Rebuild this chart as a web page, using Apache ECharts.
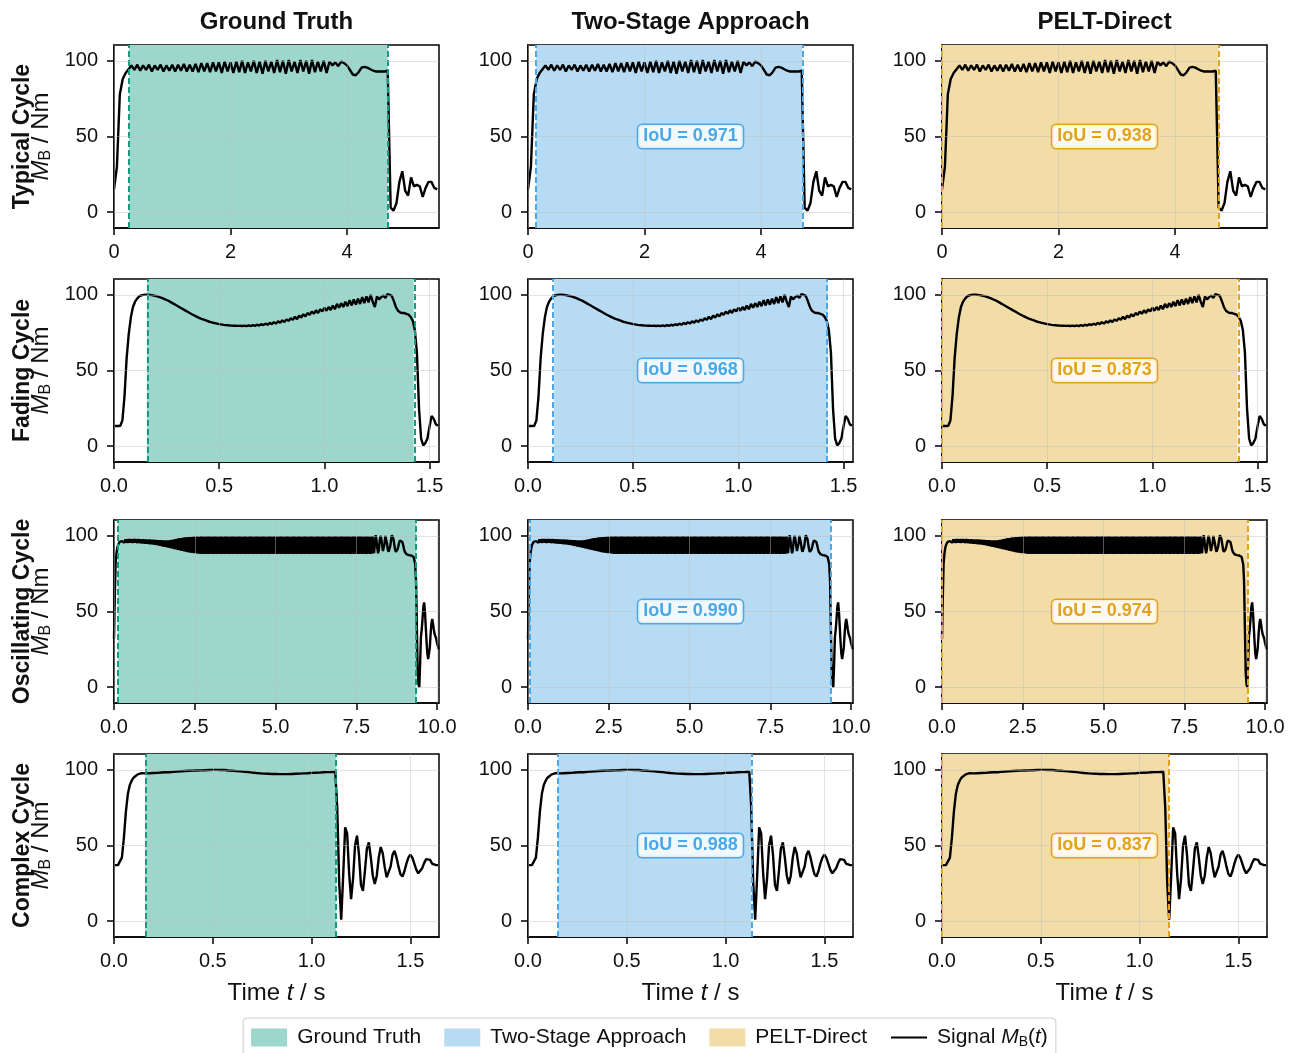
<!DOCTYPE html>
<html>
<head>
<meta charset="utf-8">
<script src="https://cdn.jsdelivr.net/npm/echarts@6/dist/echarts.min.js"></script>
<style>
  html, body { margin: 0; padding: 0; background: #fff; }
  #chart { width: 1299px; height: 1053px; }
</style>
</head>
<body>
<div id="chart"></div>
<script>
// ---- data ----
var rowNames = ['Typical Cycle', 'Fading Cycle', 'Oscillating Cycle', 'Complex Cycle'];
var methodNames = ['Ground Truth', 'Two-Stage Approach', 'PELT-Direct'];

// sample step of each signal (s), signals start at t = 0
var sampleStep = [0.05, 0.01, 0.025, 0.01];

var typicalSignal = [15, 30, 78, 88, 92, 94.5,
  97, 94, 97.5, 93.5, 97, 94, 97.5, 93, 97, 94,
  97.5, 93, 97, 93.5, 97.5, 93, 97.5, 93.5, 98, 93,
  97.5, 93, 98, 92.5, 98.5, 93, 98.5, 92.5, 99, 93,
  99, 92, 99.5, 93, 99, 92, 99.5, 92.5, 100, 92,
  99, 93, 100, 92, 99.5, 91.5, 100, 93, 99.5, 92,
  100.5, 92.5, 100, 91.5, 100.5, 93, 99.5, 92, 100.5, 93,
  100, 91.5, 100.5, 92.5, 99.5, 93, 100, 92, 99.5, 97,
  99, 96.5, 99.5, 98.5,
  97, 94, 91, 90.5, 92.5, 95.5, 96, 95.5, 94.5, 93.5, 93, 93, 93, 93, 93.5,
  3, 1, 6, 20, 27, 14, 11, 23, 17, 18, 17, 10, 16, 20, 20, 16, 15];

var fadingSignal = [13.3, 13.3, 13.3, 13.5,
  17, 33, 58, 74, 85, 92, 95.5, 97.5, 99, 99.7, 100,
  100.2, 100.2, 100, 99.8, 99.5, 99.2, 98.8, 98.3, 97.8, 97.2,
  96.6, 96, 95.2, 94.4, 93.6, 92.8, 92, 91.2, 90.4, 89.6,
  88.8, 88, 87.2, 86.5, 85.8, 85.1, 84.5, 83.9, 83.4, 82.9,
  82.4, 82, 81.6, 81.3, 81, 80.7, 80.5, 80.2, 80, 79.9,
  79.8, 79.7, 79.6, 79.6, 79.5,
  79.6, 79.4, 79.7, 79.3, 79.8, 79.4, 80, 79.5, 80.3, 79.7,
  80.6, 80, 81, 80.2, 81.5, 80.6, 82, 81, 82.6, 81.5,
  83.2, 82, 83.8, 82.8, 84.5, 83.5, 85.5, 84, 86.3, 85,
  87.2, 85.8, 88, 86.8, 89, 87.5, 89.8, 88, 90.5, 89,
  91.5, 89.5, 92, 90, 93, 90.5, 94, 91.5, 94.5, 92,
  95.5, 92.5, 96.5, 93, 97, 93.5, 97.5, 94, 98.5, 94.5,
  99, 95, 100, 95.5, 92, 99, 97, 98.5, 99.5, 98,
  100.5,
  100, 99.5, 96, 92, 89.5, 88.5, 88, 88, 87.5, 87, 85.5, 83,
  77, 62, 25, 5, 0.5, 2, 5, 13, 20, 18, 14.5, 13.5];

var oscillatingSignal = [32, 60, 82, 88, 92, 94, 95, 96, 96.5, 96.5, 96.5, 96.8,
  97.6, 95.4, 97.8, 95.5, 97.7, 95.3, 97.9, 95.5, 98, 95.4,
  97.8, 95.3, 98, 95.5, 97.9, 95.4, 97.8, 95.2, 97.9, 95.3,
  97.8, 95.1, 97.7, 95, 97.8, 94.9, 97.6, 94.8, 97.7, 94.7,
  97.5, 94.6, 97.6, 94.5, 97.4, 94.4, 97.5, 94.2, 97.3, 94.1,
  97.3, 94, 97.2, 93.8, 97.2, 93.5, 97.1, 93.3, 97, 93,
  97, 92.8, 97, 92.5, 97.1, 92.3, 97, 92, 97.2, 91.8,
  97.4, 91.5, 97.6, 91.2, 97.9, 91, 98.1, 90.7, 98.4, 90.5,
  98.5, 90.2, 98.6, 90, 98.8, 89.8, 99, 89.5, 99.1, 89.3,
  99.2, 89, 99.3, 88.9, 99.4, 88.8, 99.5, 88.6, 99.6, 88.5,
  99.7, 88.4,
  99.8, 88.2, 99.6, 88, 99.9, 88.3, 99.7, 88.1, 99.8, 88,
  99.6, 88.2, 99.9, 88, 99.7, 88.3, 99.8, 88.1, 99.6, 88,
  99.9, 88.2, 99.7, 88, 99.8, 88.3, 99.6, 88.1, 99.9, 88,
  99.8, 88.2, 99.6, 88, 99.9, 88.3, 99.7, 88.1, 99.8, 88,
  99.6, 88.2, 99.9, 88, 99.7, 88.3, 99.8, 88.1, 99.6, 88,
  99.9, 88.2, 99.7, 88, 99.8, 88.3, 99.6, 88.1, 99.9, 88,
  99.8, 88.2, 99.6, 88, 99.9, 88.3, 99.7, 88.1, 99.8, 88,
  99.6, 88.2, 99.9, 88, 99.7, 88.3, 99.8, 88.1, 99.6, 88,
  99.9, 88.2, 99.7, 88, 99.8, 88.3, 99.6, 88.1, 99.9, 88,
  99.8, 88.2, 99.6, 88, 99.9, 88.3, 99.7, 88.1, 99.8, 88,
  99.6, 88.2, 99.9, 88, 99.7, 88.3, 99.8, 88.1, 99.6, 88,
  99.9, 88.2, 99.7, 88, 99.8, 88.3, 99.6, 88.1, 99.9, 88,
  99.8, 88.2, 99.6, 88, 99.9, 88.3, 99.7, 88.1, 99.8, 88,
  99.6, 88.2, 99.9, 88, 99.7, 88.3, 99.8, 88.1, 99.6, 88,
  99.9, 88.2, 99.7, 88, 99.8, 88.3, 99.6, 88.1, 99.9, 88,
  99.8, 88.2, 99.6, 88, 99.9, 88.3, 99.7, 88.1, 99.8, 88,
  99.6, 88.2, 99.9, 88, 99.7, 88.3, 99.8, 88.1, 99.6, 88,
  99.9, 88.2, 99.7, 88, 99.8, 88.3, 99.6, 88.1, 99.9, 88,
  99.8, 88.2, 99.6, 88, 99.9, 88.3, 99.7, 88.1, 99.8, 88,
  99.6, 88.2, 99.9, 88, 99.7, 88.3, 99.8, 88.1, 99.6, 88,
  99.9, 88.2, 99.7, 88, 99.8, 88.3, 99.6, 88.1, 99.9, 88,
  99.7, 88.2, 99.8, 88, 99.6, 88.3,
  99.8, 94, 88.5, 95, 100.5, 97, 92, 88.5, 91, 97,
  100, 98, 94, 90, 89.5, 95, 100, 99, 95, 91,
  89.5, 90.5, 93, 97, 100.5, 100, 98, 94.5, 91, 89.5,
  89.5, 91, 93, 95.5, 97, 97.8, 97.5, 96, 94, 91.5,
  89.5, 88.5, 88, 87.8, 87.5, 87.3, 87.2, 87.1, 87, 86.8,
  86.5, 86, 85, 81, 70, 40, 10, 2, 0, 15,
  33, 38, 45, 53, 56, 50, 40, 30, 22, 18.5,
  19, 26, 35, 42, 45, 42, 38, 35, 34, 32,
  29, 27, 25];

var complexSignal = [37, 37, 37, 37, 42, 55, 72, 84, 90, 93, 95, 96.2, 97, 97.5, 97.8,
  97.8, 97.7, 97.9, 97.8, 98, 97.9, 98.1, 98, 98.2, 98.3,
  98.2, 98.4, 98.5, 98.4, 98.6, 98.7, 98.8, 98.9, 99, 99.1,
  99.2, 99.3, 99.3, 99.4, 99.5, 99.5, 99.6, 99.6, 99.7, 99.7,
  99.8, 99.8, 99.8, 99.9, 99.9, 100, 99.9, 100, 99.9, 99.9,
  99.8, 99.9, 99.7, 99.6, 99.6, 99.4, 99.4, 99.2, 99.1, 99,
  98.9, 98.8, 98.6, 98.5, 98.3, 98.2, 98.1, 97.9, 97.8, 97.7,
  97.6, 97.5, 97.4, 97.4, 97.3, 97.3, 97.2, 97.3, 97.2, 97.2,
  97.1, 97.2, 97.1, 97.2, 97.2, 97.3, 97.3, 97.4, 97.5, 97.5,
  97.6, 97.7, 97.8, 97.8, 97.9, 98, 98, 98.1, 98.2, 98.2,
  98.3, 98.4, 98.4, 98.5, 98.6, 98.6, 98.7, 98.8,
  75, 25, 1, 30, 62, 58, 32, 14.5, 28, 50,
  56.5, 44, 24, 20, 33, 48, 52, 42, 30, 24.5,
  30, 42, 49, 45, 36, 29, 28, 36, 44, 46.5,
  42, 36, 31, 29.5, 33, 38, 42, 44, 42, 38,
  34, 31.6, 32, 35, 38.5, 41, 42, 40.5, 38, 37,
  37, 37];

var signals = [typicalSignal, fadingSignal, oscillatingSignal, complexSignal];

// detected segment [start, end] per row
var gtStart = [0.26, 0.156, 0.12, 0.158];
var gtEnd = [4.70, 1.425, 9.35, 1.123];
var twoStageStart = [0.14, 0.124, 0.06, 0.152];
var twoStageEnd = [4.71, 1.424, 9.37, 1.129];
var peltStart = [0, 0, 0, 0];
var peltEnd = [4.75, 1.405, 9.46, 1.149];

var twoStageIoU = ['0.971', '0.968', '0.990', '0.988'];
var peltIoU = ['0.938', '0.873', '0.974', '0.837'];

// tick labels
var xTicks = [[0, 2, 4], [0, 0.5, 1.0, 1.5], [0, 2.5, 5.0, 7.5, 10.0], [0, 0.5, 1.0, 1.5]];
var xDecimals = [0, 1, 1, 1];
var xMax = [5.58, 1.545, 10.06, 1.645];
var yTicks = [0, 50, 100];

// ---- look ----
var FONT = '"Liberation Sans", Arial, Helvetica, sans-serif';
var fillColors = ['#9dd6cb', '#b7dbf2', '#f2dca8'];
var edgeColors = ['#139c7f', '#4aa8e8', '#e3a21a'];
var gridLeft = [114, 528, 942];
var gridTop = [45, 279, 520, 754];
var gridW = 325, gridH = 183;

var starts = [gtStart, twoStageStart, peltStart];
var ends = [gtEnd, twoStageEnd, peltEnd];
var ious = [null, twoStageIoU, peltIoU];

var chart = echarts.init(document.getElementById('chart'));

var grids = [], xAxes = [], yAxes = [], series = [], graphics = [];

// rich styles: subscript is pushed down with top padding
function richFor(size) {
    var sub = Math.round(size * 0.68);
    return {
        n: { fontSize: size, fontFamily: FONT, color: '#111', lineHeight: size, verticalAlign: 'middle' },
        i: { fontSize: size, fontFamily: FONT, color: '#111', fontStyle: 'italic', lineHeight: size, verticalAlign: 'middle' },
        s: { fontSize: sub, fontFamily: FONT, color: '#111', lineHeight: sub, verticalAlign: 'middle',
             padding: [Math.round(size * 0.42), 0, 0, 0] }
    };
}

for (var r = 0; r < 4; r++) {
    var pts = signals[r].map(function(v, i) {
        return [+(i * sampleStep[r]).toFixed(3), v];
    });
    for (var c = 0; c < 3; c++) {
        var g = r * 3 + c;
        grids.push({
            left: gridLeft[c], top: gridTop[r], width: gridW, height: gridH,
            show: true, borderColor: '#000', borderWidth: 1.5,
            backgroundColor: 'transparent', containLabel: false, outerBoundsMode: 'none'
        });
        xAxes.push({
            gridIndex: g, type: 'value', min: 0, max: xMax[r],
            axisLine: { show: true, onZero: false, lineStyle: { color: '#000', width: 1.5 } },
            axisTick: { show: true, length: 7, lineStyle: { color: '#000', width: 1.5 }, customValues: xTicks[r] },
            axisLabel: {
                customValues: xTicks[r], fontSize: 20, fontFamily: FONT, color: '#111', margin: 14,
                formatter: (function(d) { return function(v) { return Number(v).toFixed(d); }; })(xDecimals[r])
            },
            splitLine: { show: false },
            name: r === 3 ? '{n|Time }{i|t}{n| / s}' : '',
            nameLocation: 'middle', nameGap: 44,
            nameTextStyle: { fontSize: 24, fontFamily: FONT, color: '#111', rich: richFor(24) }
        });
        yAxes.push({
            gridIndex: g, type: 'value', min: -10.5, max: 110.5,
            axisLine: { show: true, onZero: false, lineStyle: { color: '#000', width: 1.5 } },
            axisTick: { show: true, length: 7, lineStyle: { color: '#000', width: 1.5 }, customValues: yTicks },
            axisLabel: { customValues: yTicks, fontSize: 20, fontFamily: FONT, color: '#111', margin: 16 },
            splitLine: { show: false },
            name: c === 0 ? '{i|M}{s|B}{n| / Nm}' : '',
            nameLocation: 'middle', nameGap: 61, nameRotate: 90,
            nameTextStyle: { fontSize: 24, fontFamily: FONT, color: '#111', rich: richFor(24) }
        });

        // shaded segment with dashed boundaries
        series.push({
            type: 'line', name: methodNames[c], xAxisIndex: g, yAxisIndex: g,
            data: [], z: 1, silent: true, symbol: 'none',
            itemStyle: { color: fillColors[c] }, lineStyle: { width: 0 },
            markArea: {
                silent: true, itemStyle: { color: fillColors[c] },
                data: [[{ xAxis: starts[c][r] }, { xAxis: ends[c][r] }]]
            },
            markLine: {
                silent: true, symbol: 'none', label: { show: false },
                lineStyle: { color: edgeColors[c], type: [6, 3], width: 2 },
                data: [{ xAxis: starts[c][r] }, { xAxis: ends[c][r] }]
            }
        });
        // grid lines
        var gl = yTicks.map(function(v) { return { yAxis: v }; })
            .concat(xTicks[r].map(function(v) { return { xAxis: v }; }));
        series.push({
            type: 'line', xAxisIndex: g, yAxisIndex: g, data: [], z: 2, silent: true, symbol: 'none',
            markLine: {
                silent: true, symbol: 'none', label: { show: false },
                lineStyle: { color: 'rgba(190,190,190,0.45)', width: 1, type: 'solid' },
                data: gl
            }
        });
        // signal
        series.push({
            type: 'line', name: 'Signal', xAxisIndex: g, yAxisIndex: g, data: pts,
            z: 3, silent: true, symbol: 'none', showSymbol: false,
            lineStyle: { color: '#000', width: 2.4 }, itemStyle: { color: '#000' }
        });

        if (ious[c]) {
            graphics.push({
                type: 'text', z: 100,
                x: gridLeft[c] + gridW / 2, y: gridTop[r] + gridH / 2,
                style: {
                    text: 'IoU = ' + ious[c][r], fill: edgeColors[c],
                    font: 'bold 18px ' + FONT, align: 'center', verticalAlign: 'middle',
                    backgroundColor: 'rgba(255,255,255,0.82)', borderColor: edgeColors[c],
                    borderWidth: 1.5, borderRadius: 4, padding: [3, 5, 2, 5]
                }
            });
        }
    }
    graphics.push({
        type: 'text', z: 100, x: 23, y: gridTop[r] + gridH / 2, rotation: Math.PI / 2,
        style: { text: rowNames[r], fill: '#111', font: 'bold 23px ' + FONT, align: 'center', verticalAlign: 'middle' }
    });
}

for (var c = 0; c < 3; c++) {
    graphics.push({
        type: 'text', z: 100, x: gridLeft[c] + gridW / 2, y: 22,
        style: { text: methodNames[c], fill: '#111', font: 'bold 24px ' + FONT, align: 'center', verticalAlign: 'middle' }
    });
}

var option = {
    animation: false,
    backgroundColor: '#fff',
    grid: grids,
    xAxis: xAxes,
    yAxis: yAxes,
    series: series,
    graphic: graphics,
    legend: {
        top: 1018, left: 'center',
        data: [
            { name: 'Ground Truth', icon: 'rect' },
            { name: 'Two-Stage Approach', icon: 'rect' },
            { name: 'PELT-Direct', icon: 'rect' },
            { name: 'Signal', itemStyle: { color: 'rgba(0,0,0,0)', borderWidth: 0, opacity: 0 } }
        ],
        itemWidth: 36, itemHeight: 18, itemGap: 23, selectedMode: false,
        borderColor: '#ccc', borderWidth: 1, borderRadius: 4, padding: [8, 8, 8, 8],
        formatter: function(name) {
            return name === 'Signal' ? '{n|Signal }{i|M}{s|B}{n|(}{i|t}{n|)}' : name;
        },
        textStyle: {
            fontSize: 21, fontFamily: FONT, color: '#111', padding: [0, 0, 0, 5],
            rich: richFor(21)
        }
    }
};

chart.setOption(option);
</script>
</body>
</html>
